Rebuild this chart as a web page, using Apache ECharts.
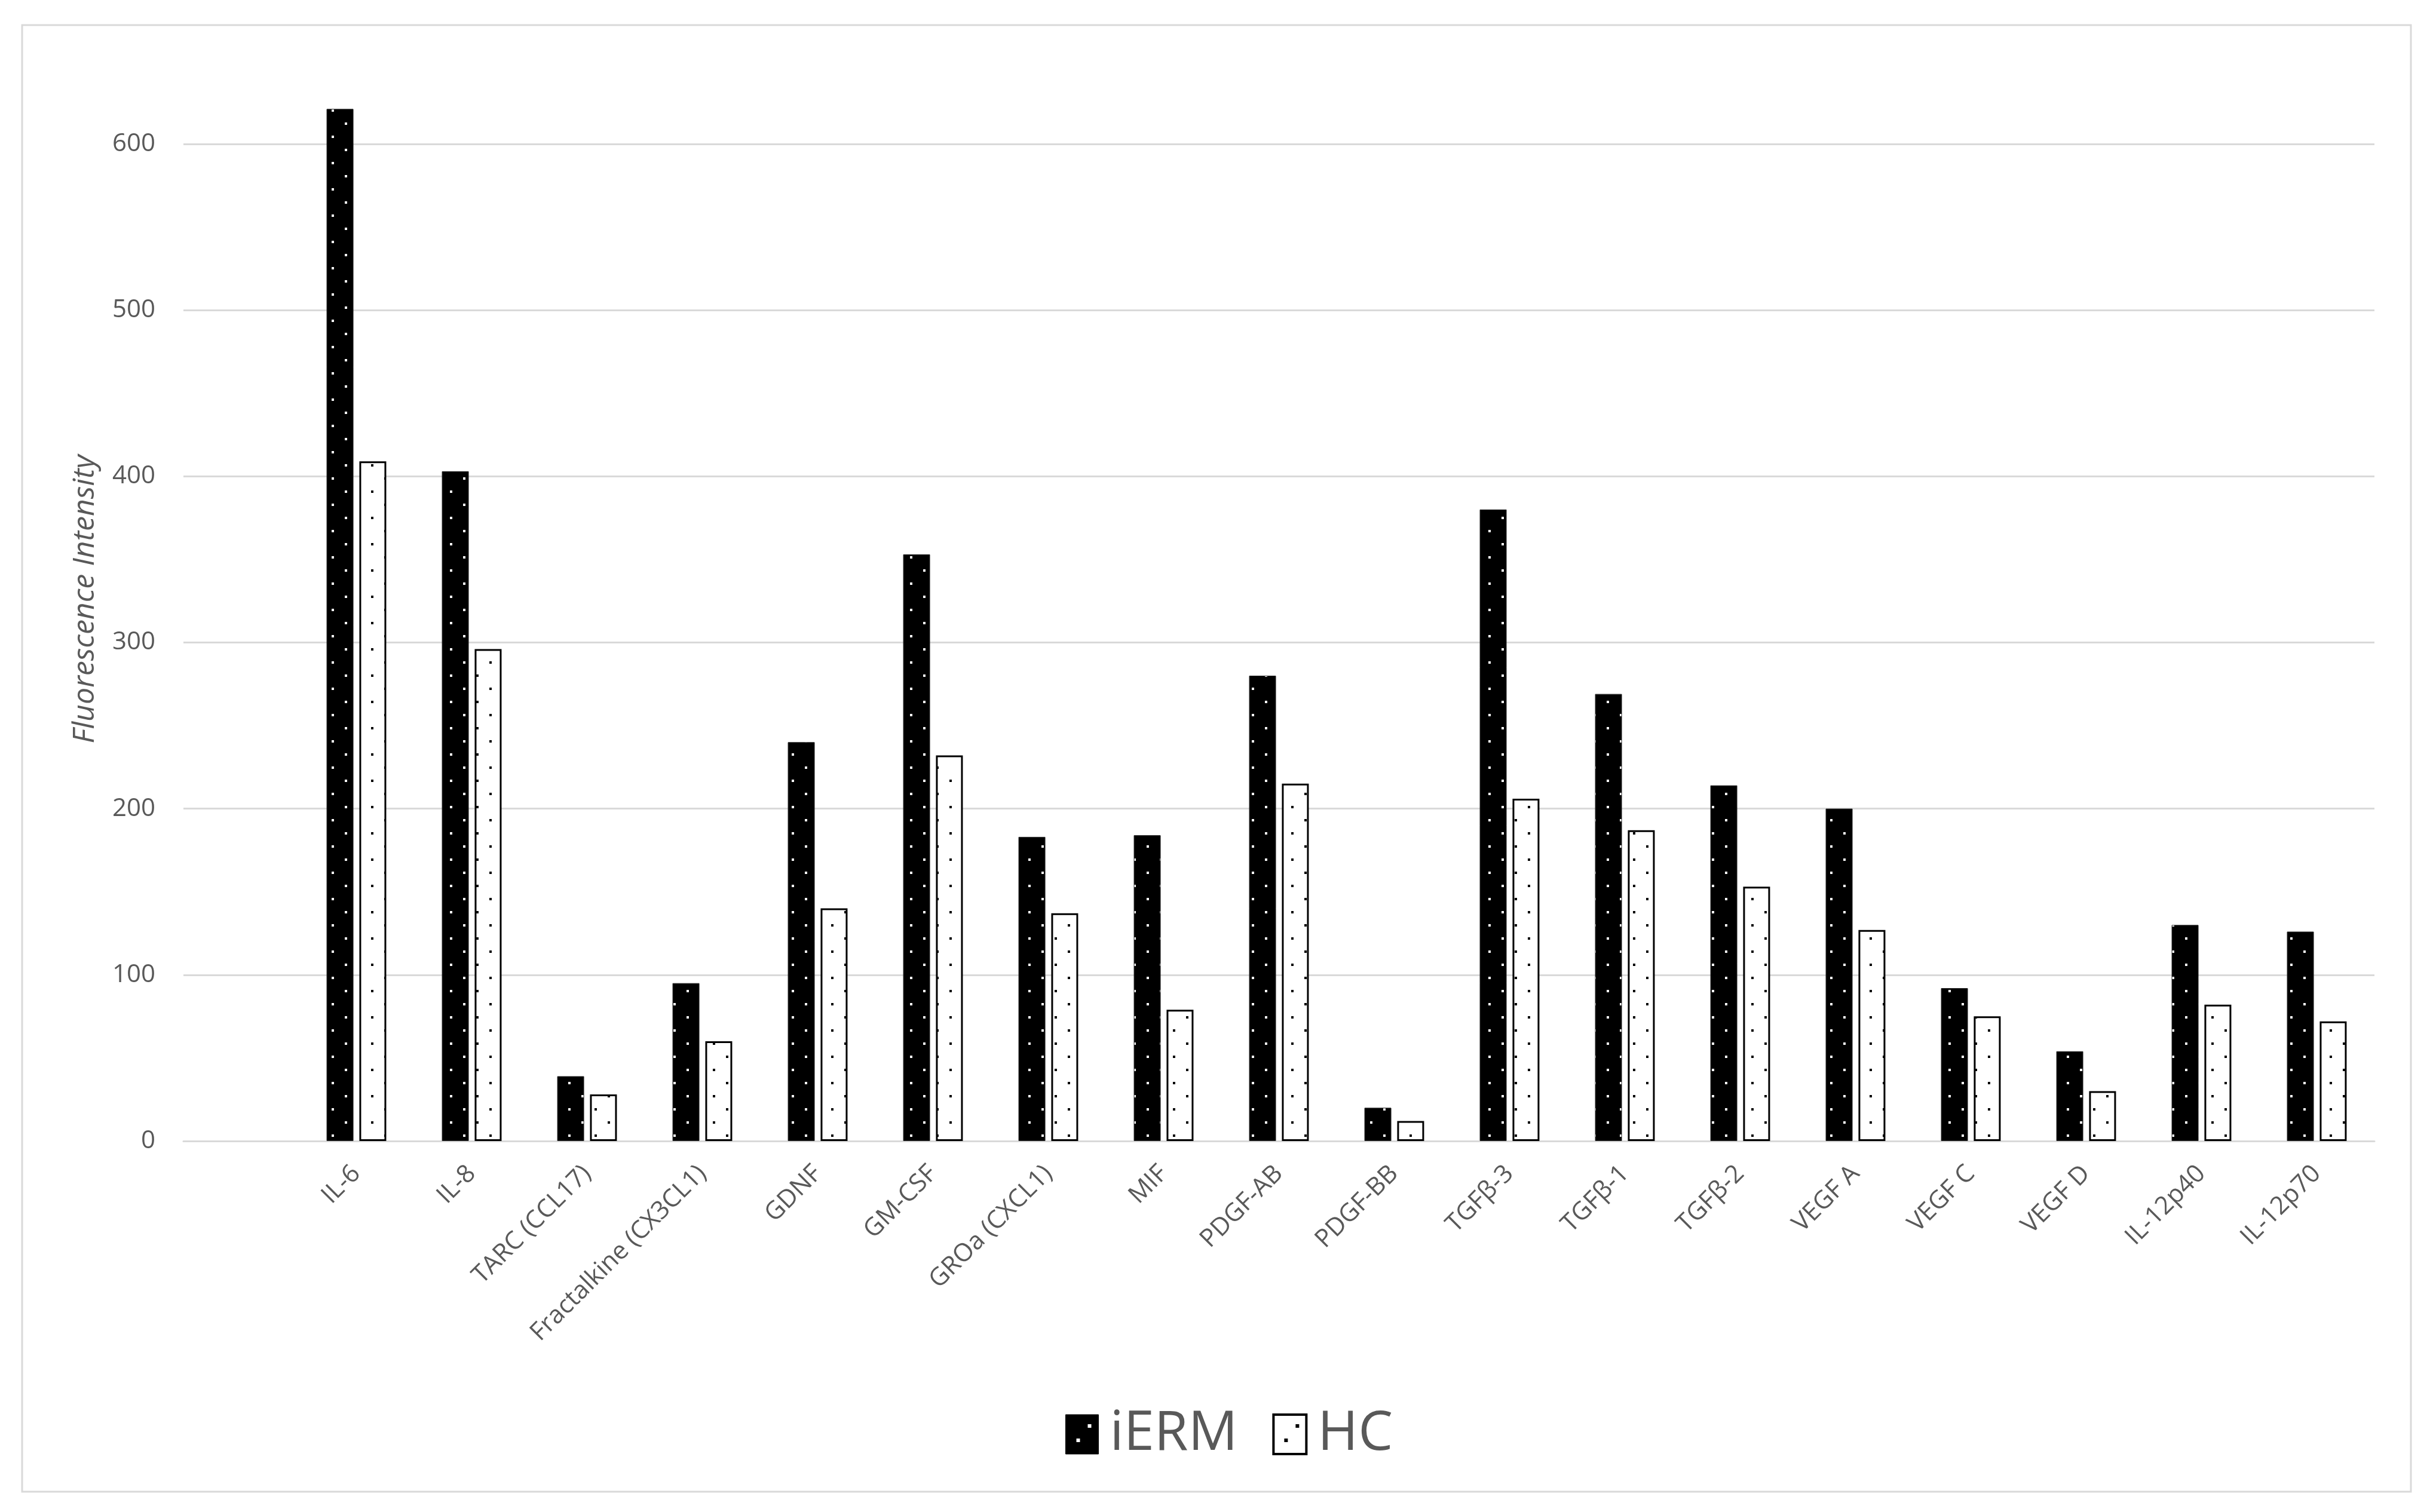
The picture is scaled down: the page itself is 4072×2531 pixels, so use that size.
<!DOCTYPE html>
<html>
<head>
<meta charset="utf-8">
<script src="https://cdn.jsdelivr.net/npm/echarts@6/dist/echarts.min.js"></script>
<style>
html,body{margin:0;padding:0;background:#fff;}
#chart{width:4072px;height:2531px;}
</style>
</head>
<body>
<div id="chart"></div>
<script>
// ---- data ----
const categories = ['IL-6','IL-8','TARC (CCL17)','Fractalkine (CX3CL1)','GDNF','GM-CSF','GROa (CXCL1)','MIF','PDGF-AB','PDGF-BB','TGF\u03b2-3','TGF\u03b2-1','TGF\u03b2-2','VEGF A','VEGF C','VEGF D','IL-12p40','IL-12p70'];
const iERM = [621, 403, 39, 95, 240, 353, 183, 184, 280, 20, 380, 269, 214, 200, 92, 54, 130, 126];
const HC   = [409, 296, 28, 60, 140, 232, 137, 79, 215, 12, 206, 187, 153, 127, 75, 30, 82, 72];
const seriesNames = ['iERM', 'HC'];
const yTicks = [0, 100, 200, 300, 400, 500, 600];

// dotted fill patterns
function dotPattern(bg, dot) {
  const c = document.createElement('canvas');
  c.width = 44; c.height = 44;
  const g = c.getContext('2d');
  g.fillStyle = bg; g.fillRect(0, 0, 44, 44);
  g.fillStyle = dot;
  g.fillRect(27, 7, 4, 4);
  g.fillRect(5, 29, 4, 4);
  return { image: c, repeat: 'repeat' };
}
function legendPattern(bg, dot) {
  const c = document.createElement('canvas');
  c.width = 55; c.height = 66;
  const g = c.getContext('2d');
  g.fillStyle = bg; g.fillRect(0, 0, 55, 66);
  g.fillStyle = dot;
  g.fillRect(37, 16, 6, 6);
  g.fillRect(18, 40, 6, 6);
  return { image: c, repeat: 'no-repeat' };
}

// the original chart has an empty leading category slot
const axisCats = [''].concat(categories);
const iERMData = [null].concat(iERM);
const HCData = [null].concat(HC);

const chart = echarts.init(document.getElementById('chart'), null, { renderer: 'canvas' });
const FONT = '"Open Sans", "Noto Sans", sans-serif';
const option = {
  backgroundColor: '#ffffff',
  animation: false,
  grid: { left: 307, right: 98, top: 129.5, bottom: 621, containLabel: false },
  legend: {
    data: [
      { name: seriesNames[0], itemStyle: { color: legendPattern('#000000', '#ffffff'), borderColor: '#000', borderWidth: 1 } },
      { name: seriesNames[1], itemStyle: { color: legendPattern('#ffffff', '#000000'), borderColor: '#000', borderWidth: 4 } }
    ],
    left: 1778, top: 2350,
    icon: 'rect',
    itemWidth: 55, itemHeight: 66,
    itemGap: 58,
    textStyle: { fontFamily: FONT, fontSize: 92, color: '#595959', lineHeight: 66, padding: [0, 0, 0, 14] }
  },
  xAxis: {
    type: 'category',
    data: axisCats,
    axisLine: { show: true, lineStyle: { color: '#d9d9d9', width: 3 } },
    axisTick: { show: false },
    axisLabel: { interval: 0, rotate: 45, fontFamily: FONT, fontSize: 42, color: '#595959', margin: 48 }
  },
  yAxis: {
    type: 'value',
    min: 0, max: 640, interval: 100,
    axisLine: { show: false },
    axisTick: { show: false },
    splitLine: { show: true, showMaxLine: false, lineStyle: { color: '#d9d9d9', width: 3 } },
    axisLabel: {
      showMaxLabel: false,
      fontFamily: FONT, fontSize: 42, color: '#595959', margin: 47,
      formatter: v => (yTicks.indexOf(v) >= 0 ? String(v) : '')
    }
  },
  graphic: [
    { type: 'rect', shape: { x: 37, y: 42, width: 3998, height: 2455 }, style: { fill: 'none', stroke: '#d9d9d9', lineWidth: 3 }, silent: true, z: -10 },
    { type: 'text', x: 143, y: 1003, rotation: Math.PI / 2,
      style: { text: 'Fluorescence Intensity', font: 'italic 50px "Open Sans", "Noto Sans", sans-serif', fill: '#595959', align: 'center', verticalAlign: 'middle' } }
  ],
  series: [
    { name: seriesNames[0], type: 'bar', data: iERMData, barWidth: 45, barGap: '22%',
      itemStyle: { color: dotPattern('#000000', '#ffffff'), borderColor: '#262626', borderWidth: 1 } },
    { name: seriesNames[1], type: 'bar', data: HCData, barWidth: 45, barGap: '22%',
      itemStyle: { color: dotPattern('#ffffff', '#000000'), borderColor: '#000000', borderWidth: 3 } }
  ]
};
chart.setOption(option);
</script>
</body>
</html>
